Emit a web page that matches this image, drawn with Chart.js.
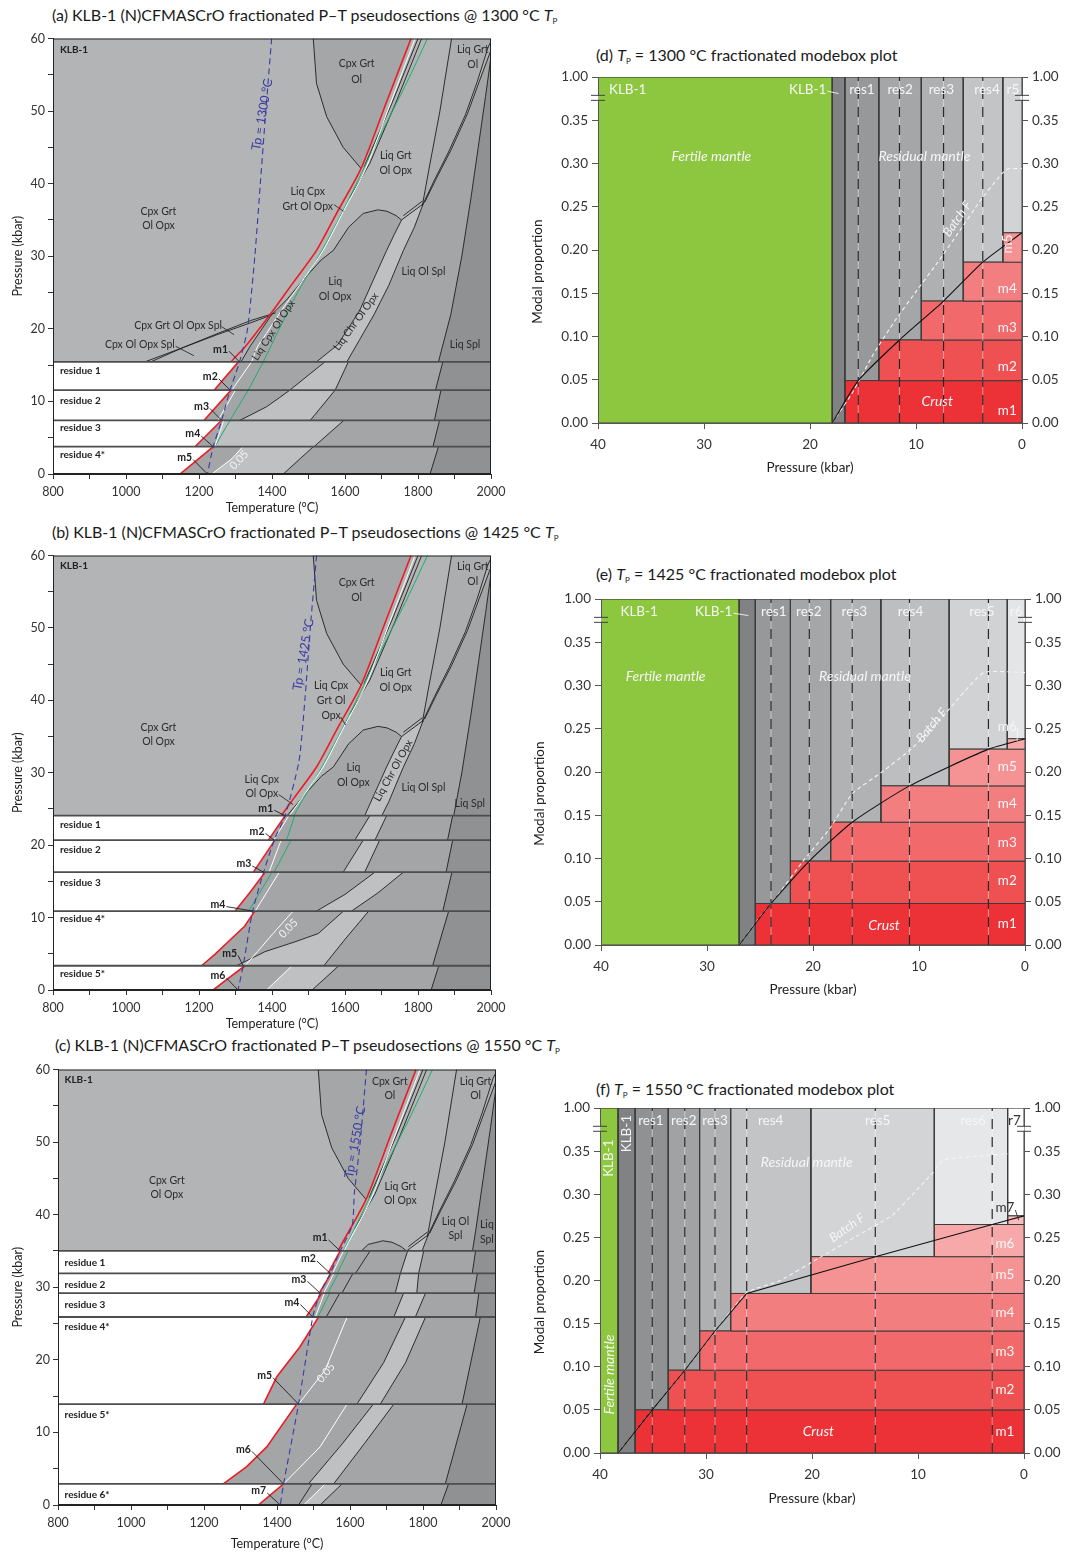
<!DOCTYPE html>
<html lang="en">
<head>
<meta charset="UTF-8">
<title>KLB-1 fractionated pseudosections and modebox plots</title>
<script src="https://cdn.jsdelivr.net/npm/chart.js"></script>
<style>
  body { margin: 0; background: #fff; }
  #page { position: relative; width: 1075px; height: 1553px; overflow: hidden; font-family: Lato, sans-serif; }
  canvas { position: absolute; }
  .ttl { position: absolute; font-size: 16px; line-height: 18px; color: #1a1a1a; white-space: nowrap; }
  .ttl sub { font-size: 8px; vertical-align: -3px; }
</style>
</head>
<body>
<div id="page">
  <div class="ttl" style="left:52px;top:6px">(a) KLB-1 (N)CFMASCrO fractionated P–T pseudosections @ 1300 °C <i>T</i><sub>P</sub></div>
  <div class="ttl" style="left:596px;top:46px">(d) <i>T</i><sub>P</sub> = 1300 °C fractionated modebox plot</div>
  <div class="ttl" style="left:52px;top:523px">(b) KLB-1 (N)CFMASCrO fractionated P–T pseudosections @ 1425 °C <i>T</i><sub>P</sub></div>
  <div class="ttl" style="left:596px;top:565px">(e) <i>T</i><sub>P</sub> = 1425 °C fractionated modebox plot</div>
  <div class="ttl" style="left:55px;top:1036px">(c) KLB-1 (N)CFMASCrO fractionated P–T pseudosections @ 1550 °C <i>T</i><sub>P</sub></div>
  <div class="ttl" style="left:596px;top:1080px">(f) <i>T</i><sub>P</sub> = 1550 °C fractionated modebox plot</div>

  <canvas id="chartA" width="513" height="496" style="left:0;top:28px"></canvas>
  <canvas id="chartB" width="513" height="495" style="left:0;top:545px"></canvas>
  <canvas id="chartC" width="518" height="494" style="left:0;top:1059px"></canvas>
  <canvas id="chartD" width="547" height="413" style="left:525px;top:65px"></canvas>
  <canvas id="chartE" width="550" height="413" style="left:525px;top:587px"></canvas>
  <canvas id="chartF" width="549" height="412" style="left:525px;top:1096px"></canvas>
</div>

<script>
// ---------- axes ----------
const T_TICKS = [800, 900, 1000, 1100, 1200, 1300, 1400, 1500, 1600, 1700, 1800, 1900, 2000];
const T_TICK_LABELS = ['800', '', '1000', '', '1200', '', '1400', '', '1600', '', '1800', '', '2000'];
const P_TICKS = [0, 5, 10, 15, 20, 25, 30, 35, 40, 45, 50, 55, 60];
const P_TICK_LABELS = ['0', '', '10', '', '20', '', '30', '', '40', '', '50', '', '60'];
const MB_P_TICKS = [0, 10, 20, 30, 40];
const MB_P_LABELS = ['0', '10', '20', '30', '40'];
// modal axis is broken above 0.35; the last tick carries 1.00
const MB_TICKS = [0, 0.05, 0.10, 0.15, 0.20, 0.25, 0.30, 0.35, 0.40];
const MB_TICK_LABELS = ['0.00', '0.05', '0.10', '0.15', '0.20', '0.25', '0.30', '0.35', '1.00'];
const MB_BREAK_TOP = 0.40;
const MB_BREAK_MARK = 0.376;

// ---------- KLB-1 phase boundaries (T °C, P kbar) ----------
const SOLIDUS = [[1781,60],[1712,51],[1644,42.1],[1580,36.2],[1522,30.8],[1460,26.5],[1404,22.6],[1350,19],[1326,17.5],[1288,15.45],[1270,14]];
const MELT05 = [[1792,60],[1724,51],[1657,42.1],[1596,36.2],[1540,30.8],[1482,26.5],[1427,22.6],[1380,19],[1360,17.5],[1344,15.45],[1330,14]];
const GREEN_LINE = [[1826,60],[1770,54],[1720,49],[1660,43],[1600,36.8],[1537,30.8],[1470,25],[1420,20],[1376,15.45],[1360,14]];
const CPX_GRT_OL = [[1513,60],[1522,53.8],[1550,49.2],[1595,45],[1644,42.1]];
const LIQ_EDGE_1 = [[1800,60],[1728,51],[1652,42.3]];
const LIQ_EDGE_2 = [[1810,60],[1738,51],[1668,42.8],[1612,38]];
const OPX_OUT = [[1892,60],[1860,50],[1830,42],[1812,37]];
const GRT_OUT_A = [[1812,37],[1845,40.5],[1885,44.5],[1930,49.5],[1962,54],[1992,58.8],[2000,59.6]];
const GRT_OUT_B = [[1818,37.4],[1851,40.8],[1891,44.7],[1936,49.7],[1968,54.1],[1997,58],[2000,58.4]];
const SPL_FIELD = [[2000,57.5],[1985,52],[1965,45],[1945,38],[1920,30],[1890,22],[1856,15.45],[1840,8],[1830,0]];
const CHR_RIGHT = [[1814,37.2],[1790,34],[1760,30.8],[1720,26],[1680,22],[1640,18.5],[1605,15.45],[1570,10],[1540,5],[1515,0]];
const CHR_LEFT = [[1755,35],[1735,33],[1714,30.8],[1680,27],[1640,22.5],[1580,17.8],[1522,15.45],[1490,10],[1460,5],[1440,0]];
const JUNCTION_A = [[1755,35],[1814,37.2]];
const JUNCTION_B = [[1760,35.6],[1812,37.6]];
const GRT_DOME = [[1568,30.8],[1610,34],[1650,35.9],[1690,36.4],[1715,36.2],[1740,35.6],[1755,35]];
const CPX_LOW = [[1398,21.9],[1370,19.8],[1340,17.6],[1315,15.45]];
const CPX_HIGH = [[1398,21.9],[1440,24],[1490,27],[1535,29.5],[1568,30.8]];
const SPL_IN_A = [[1052,15.45],[1150,17.3],[1250,19.2],[1340,20.8],[1398,21.9]];
const SPL_IN_B = [[1068,15.45],[1160,17.5],[1258,19.5],[1345,21.2],[1410,22.2]];

// ---------- (a) Tp = 1300 °C ----------
const A_BANDS = [15.45, 11.56, 7.4, 3.76, 0];
const A_RED = [
  [[1308,15.45],[1242,11.56]],
  [[1288,11.56],[1214,7.4]],
  [[1262,7.4],[1189,3.76]],
  [[1239,3.76],[1192,1.8],[1148,0]]
];
const A_WHITE = [
  [[1344,15.45],[1290,11.56]],
  [[1300,11.56],[1252,7.4]],
  [[1268,7.4],[1243,3.76]],
  [[1320,3.76],[1290,2.1],[1235,0]]
];
const A_GREEN = [
  [[1376,15.45],[1335,11.56]],
  [[1335,11.56],[1285,7.4]],
  [[1285,7.4],[1243,3.76]],
  null
];
const A_LIGHT_L = [
  [[1545,15.45],[1449,11.56]],
  [[1449,11.56],[1420,10.5],[1385,9.26],[1340,8.1],[1312,7.4]],
  null,
  null
];
const A_LIGHT_R = [
  [[1609,15.45],[1573,11.56]],
  [[1573,11.56],[1505,7.4]],
  [[1597,7.4],[1515,3.76]],
  [[1513,3.76],[1431,0]]
];
const A_DARK = [
  [[1868,15.45],[1848,11.56]],
  [[1863,11.56],[1845,7.4]],
  [[1859,7.4],[1841,3.76]],
  [[1856,3.76],[1833,0]]
];
const A_ADIABAT = [[1399,60],[1383,50],[1368,40],[1353,30],[1333,20],[1311,15.45],[1285,11.56],[1262,7.4],[1239,3.76],[1223,0]];
const A_MELTS = [[1311,15.45],[1285,11.56],[1262,7.4],[1239,3.76],[1223,0]];

// ---------- (b) Tp = 1425 °C ----------
const B_BANDS = [24.07, 20.7, 16.27, 10.9, 3.35, 0];
const B_RED = [
  [[1436,24.07],[1390,20.7]],
  [[1408,20.7],[1349,16.27]],
  [[1381,16.27],[1340,13.5],[1299,10.9]],
  [[1353,10.9],[1325,8.8],[1285,6.9],[1245,5],[1207,3.35]],
  [[1326,3.35],[1280,1.6],[1239,0]]
];
const B_WHITE = [
  [[1446,24.07],[1405,20.7]],
  [[1425,20.7],[1392,16.27]],
  [[1420,16.27],[1354,10.9]],
  [[1458,10.9],[1403,7.8],[1360,5.3],[1326,3.35]],
  [[1455,3.35],[1385,0]]
];
const B_GREEN = [
  [[1462,24.07],[1440,20.7]],
  [[1452,20.7],[1406,16.27]],
  [[1400,16.27],[1336,10.9]],
  null,
  null
];
const B_LIGHT_L = [
  [[1668,24.07],[1627,20.7]],
  [[1650,20.7],[1595,16.27]],
  [[1682,16.27],[1600,13.2],[1522,10.9]],
  [[1596,10.9],[1527,7.8],[1463,6.65],[1381,5.3],[1303,3.35]],
  null
];
const B_LIGHT_R = [
  [[1714,24.07],[1682,20.7]],
  [[1695,20.7],[1654,16.27]],
  [[1760,16.27],[1690,13.4],[1618,10.9]],
  [[1665,10.9],[1600,7],[1542,3.35]],
  [[1583,3.35],[1510,0]]
];
const B_DARK = [
  [[1895,24.07],[1881,20.7]],
  [[1895,20.7],[1877,16.27]],
  [[1893,16.27],[1868,10.9]],
  [[1884,10.9],[1840,3.35]],
  [[1857,3.35],[1836,0]]
];
const B_ADIABAT = [[1522,60],[1505,50],[1490,40],[1474,31.6],[1436,24.07],[1406,20.7],[1377,16.27],[1347,10.9],[1321,3.35],[1307,0]];
const B_MELTS = [[1436,24.07],[1406,20.7],[1377,16.27],[1347,10.9],[1321,3.35],[1307,0]];

// ---------- (c) Tp = 1550 °C ----------
const C_BANDS = [35.0, 31.9, 29.2, 25.9, 13.9, 2.9, 0];
const C_RED = [
  [[1573,35],[1540,31.9]],
  [[1548,31.9],[1516,29.2]],
  [[1523,29.2],[1480,25.9]],
  [[1514,25.9],[1463,21.8],[1400,17.7],[1363,13.9]],
  [[1454,13.9],[1372,8],[1317,5.3],[1253,2.9]],
  [[1418,2.9],[1349,0]]
];
const C_WHITE = [
  [[1582,35],[1552,31.9]],
  [[1556,31.9],[1528,29.2]],
  [[1530,29.2],[1505,25.9]],
  [[1592,25.9],[1532,18.6],[1459,13.9]],
  [[1592,13.9],[1518,8],[1418,2.9]],
  [[1532,2.9],[1473,0]]
];
const C_GREEN = [
  [[1595,35],[1565,31.9]],
  [[1568,31.9],[1540,29.2]],
  [[1545,29.2],[1512,25.9]],
  null, null, null
];
const C_LIGHT_L = [
  [[1758,35],[1738,31.9]],
  [[1738,31.9],[1724,29.2]],
  [[1747,29.2],[1720,25.9]],
  [[1752,25.9],[1692,19.6],[1619,13.9]],
  [[1664,13.9],[1580,8.5],[1486,2.9]],
  null
];
const C_LIGHT_R = [
  [[1802,35],[1788,31.9]],
  [[1788,31.9],[1783,29.2]],
  [[1807,29.2],[1779,25.9]],
  [[1807,25.9],[1752,19.6],[1683,13.9]],
  [[1720,13.9],[1640,8.5],[1555,2.9]],
  [[1578,2.9],[1518,0]]
];
const C_DARK = [
  [[1944,35],[1935,31.9]],
  [[1949,31.9],[1940,29.2]],
  [[1953,29.2],[1944,25.9]],
  [[1957,25.9],[1907,13.9]],
  [[1921,13.9],[1861,2.9]],
  [[1870,2.9],[1849,0]]
];
const C_EXTRA = [
  [[1655,35],[1615,31.9]],
  [[1608,31.9],[1578,29.2]],
  [[1572,29.2],[1535,25.9]],
  [[1496,2.9],[1459,0]]
];
const C_ADIABAT = [[1645,60],[1628,50],[1612,43],[1606,38.5],[1573,35],[1546,31.9],[1518,29.2],[1498,25.9],[1459,13.9],[1418,2.9],[1409,0]];
const C_MELTS = [[1573,35],[1546,31.9],[1518,29.2],[1498,25.9],[1459,13.9],[1418,2.9],[1409,0]];

// ---------- modebox columns: pressure edges (kbar) and cumulative extracted melt ----------
const D_EDGES = [40, 17.9, 16.7, 13.5, 9.5, 5.54, 1.8, 0];
const D_CUM = [0.049, 0.096, 0.141, 0.186, 0.22];
const D_STEPS = [15.45, 11.56, 7.4, 3.7];
const D_FRACT = [[17.9,0],[15.45,0.049],[11.56,0.096],[7.4,0.141],[3.7,0.186],[0,0.22]];
const D_BATCH = [[17.9,0],[16,0.035],[14,0.08],[12,0.118],[10,0.152],[8,0.185],[6,0.22],[4,0.256],[2,0.287],[1.3,0.294],[0,0.294]];

const E_EDGES = [40, 26.96, 25.44, 22.13, 18.33, 13.59, 7.15, 1.67, 0];
const E_CUM = [0.048, 0.097, 0.142, 0.184, 0.2265, 0.2385];
const E_STEPS = [23.96, 20.35, 16.3, 10.9, 3.45];
const E_FRACT = [[26.96,0],[23.96,0.048],[20.35,0.097],[16.3,0.142],[10.9,0.184],[3.45,0.2265],[0,0.2385]];
const E_BATCH = [[26.96,0],[25.2,0.029],[23.3,0.058],[21,0.096],[18.4,0.135],[16.3,0.175],[13.5,0.2],[10.7,0.227],[7.5,0.268],[3.9,0.315],[0,0.315]];

const F_EDGES = [40, 38.29, 36.68, 33.56, 30.6, 27.67, 20.1, 8.46, 1.54, 0];
const F_CUM = [0.05, 0.096, 0.1415, 0.185, 0.2277, 0.265, 0.275];
const F_STEPS = [35.07, 32.0, 29.15, 26.16, 14.03, 3.0];
const F_FRACT = [[38.29,0],[35.07,0.05],[32,0.096],[29.15,0.1415],[26.16,0.185],[14.03,0.2277],[3.0,0.265],[0,0.275]];
const F_BATCH = [[38.29,0],[35.07,0.05],[32,0.096],[29.15,0.141],[26.16,0.186],[23,0.2],[19.5,0.225],[16,0.25],[12.5,0.275],[10.5,0.3],[8.6,0.325],[7.6,0.34],[1.5,0.347]];

// ---------- colours ----------
const INK = '#1e1e1e', RED = '#ed1c24', GREEN = '#1fae6e', BLUE = '#3a3aa6';
const G_MAIN = '#b2b4b5', G_CGO = '#a4a6a7', G_LGO = '#abadae', G_MID = '#a3a5a6', G_LIGHT = '#bec0c1', G_DARK = '#8f9192';
const D_COLS = ['#8dc63f', '#808284', '#96989a', '#a4a6a8', '#aeb0b2', '#c2c4c5', '#d1d3d4'];
const E_COLS = ['#8dc63f', '#808284', '#96989a', '#a4a6a8', '#b0b2b3', '#bcbebf', '#d0d2d3', '#e4e5e6'];
const F_COLS = ['#8dc63f', '#808284', '#8f9193', '#a0a2a4', '#aeb0b2', '#c2c4c5', '#d2d4d5', '#e6e7e8', '#ffffff'];
const MELT_COLS = ['#ed3237', '#ef5052', '#f1696b', '#f37e80', '#f59294', '#f7a9aa', '#f9bcbc'];

Chart.defaults.font.family = 'Lato, "Open Sans", sans-serif';
Chart.defaults.color = '#333';
Chart.defaults.animation = false;
Chart.defaults.events = [];
Chart.defaults.plugins.legend.display = false;
Chart.defaults.plugins.tooltip.enabled = false;

const xy = a => a.map(([x, y]) => ({x, y}));
const rev = a => a.slice().reverse();
const yb = v => (v >= 1 ? MB_BREAK_TOP : v);

function area(points, color) {
  return {data: xy(points), fill: 'shape', backgroundColor: color, borderWidth: 0, pointRadius: 0};
}
function curve(points, color, width, extra) {
  return Object.assign({data: xy(points), fill: false, borderColor: color, borderWidth: width, pointRadius: 0, tension: 0}, extra || {});
}
// later entries are painted over earlier ones
function stack(list) {
  const n = list.length;
  return list.map((d, i) => Object.assign(d, {order: n - i}));
}

// ---------- plugins ----------
const notes = {
  id: 'notes',
  afterDatasetsDraw(chart, args, opts) {
    const {ctx, chartArea: a} = chart;
    const sx = chart.scales.x, sy = chart.scales.y;
    ctx.save();
    ctx.beginPath();
    ctx.rect(a.left, a.top, a.right - a.left, a.bottom - a.top);
    ctx.clip();
    for (const n of opts.items || []) {
      const px = sx.getPixelForValue(n.x), py = sy.getPixelForValue(n.y);
      ctx.font = `${n.style || 'normal'} ${n.weight || 'normal'} ${n.size}px Lato, sans-serif`;
      ctx.fillStyle = n.color;
      ctx.textBaseline = 'middle';
      ctx.textAlign = n.align || 'center';
      ctx.save();
      ctx.translate(px, py);
      ctx.rotate((n.rot || 0) * Math.PI / 180);
      ctx.fillText(n.t, 0, 0);
      ctx.restore();
      if (n.to) {
        const w = ctx.measureText(n.t).width;
        const x0 = n.align === 'right' ? px + 1 : px + w / 2 + 1;
        ctx.beginPath();
        ctx.moveTo(x0, py + 2);
        ctx.lineTo(sx.getPixelForValue(n.to[0]), sy.getPixelForValue(n.to[1]));
        ctx.strokeStyle = n.lead || INK;
        ctx.lineWidth = 0.9;
        ctx.stroke();
      }
    }
    ctx.restore();
  }
};

const frame = {
  id: 'frame',
  afterDatasetsDraw(chart) {
    const {ctx, chartArea: a} = chart;
    ctx.save();
    ctx.strokeStyle = '#222';
    ctx.lineWidth = 1;
    ctx.strokeRect(a.left + 0.5, a.top + 0.5, a.right - a.left - 1, a.bottom - a.top - 1);
    ctx.restore();
  }
};

const modalAxis = {
  id: 'modalAxis',
  afterDraw(chart, args, opts) {
    const {ctx, chartArea: a} = chart;
    const y = chart.scales.y.getPixelForValue(MB_BREAK_MARK);
    ctx.save();
    for (const x of [a.left, a.right]) {
      ctx.fillStyle = '#fff';
      ctx.fillRect(x - 1.5, y - 2, 2, 4);
      ctx.strokeStyle = '#444';
      ctx.lineWidth = 1;
      ctx.beginPath();
      ctx.moveTo(x - 7, y - 2.5); ctx.lineTo(x + 7, y - 2.5);
      ctx.moveTo(x - 7, y + 2.5); ctx.lineTo(x + 7, y + 2.5);
      ctx.stroke();
    }
    // axis caption centred on the 0.00–0.35 part of the scale
    ctx.translate(opts.captionX, chart.scales.y.getPixelForValue(0.175));
    ctx.rotate(-Math.PI / 2);
    ctx.font = '13.5px Lato, sans-serif';
    ctx.fillStyle = '#222';
    ctx.textAlign = 'center';
    ctx.textBaseline = 'middle';
    ctx.fillText('Modal proportion', 0, 0);
    ctx.restore();
  }
};

// ---------- pseudosection panels ----------
function pseudoSets(p) {
  const L = [];
  L.push(area([[800,0],[2000,0],[2000,60],[800,60]], G_MAIN));
  L.push(area(CPX_GRT_OL.concat([SOLIDUS[1], SOLIDUS[0]]), G_CGO));
  L.push(area(OPX_OUT.concat(GRT_OUT_A.slice(1), [[2000,60]]), G_LGO));
  L.push(area(rev(GRT_OUT_B).concat(CHR_RIGHT, rev(SPL_FIELD)), G_MID));
  L.push(area(rev(CPX_LOW).concat(CPX_HIGH.slice(1), GRT_DOME.slice(1), CHR_LEFT.slice(1), [[1250,0]]), G_MID));
  L.push(area(CHR_LEFT.concat(rev(CHR_RIGHT)), G_LIGHT));
  L.push(area(SPL_FIELD.concat([[2000,0]]), G_DARK));
  [CPX_GRT_OL, LIQ_EDGE_1, LIQ_EDGE_2, OPX_OUT, GRT_OUT_A, GRT_OUT_B, SPL_FIELD, CHR_RIGHT, CHR_LEFT,
   JUNCTION_A, JUNCTION_B, GRT_DOME, CPX_LOW, CPX_HIGH, SPL_IN_A, SPL_IN_B].forEach(c => L.push(curve(c, INK, 0.9)));
  L.push(curve(GREEN_LINE, GREEN, 1, {tension: 0.25}));
  L.push(curve(MELT05, '#ffffff', 1, {tension: 0.25}));
  L.push(curve(SOLIDUS, RED, 1.6, {tension: 0.25}));

  const nb = p.bands.length - 1;
  for (let i = 0; i < nb; i++) {
    const top = p.bands[i], bot = p.bands[i + 1];
    L.push(area([[800, top], [2000, top], [2000, bot], [800, bot]], G_MID));
    L.push(area((p.lightL[i] || p.white[i]).concat(rev(p.lightR[i])), G_LIGHT));
    L.push(area(p.dark[i].concat([[2000, bot], [2000, top]]), G_DARK));
    L.push(area([[800, top]].concat(p.red[i], [[800, bot]]), '#ffffff'));
  }
  for (let i = 0; i < nb; i++) {
    if (p.lightL[i]) L.push(curve(p.lightL[i], INK, 0.9));
    L.push(curve(p.lightR[i], INK, 0.9));
    L.push(curve(p.dark[i], INK, 0.9));
    if (p.green[i]) L.push(curve(p.green[i], GREEN, 1));
    L.push(curve(p.white[i], '#ffffff', 1));
    L.push(curve(p.red[i], RED, 1.6));
  }
  (p.extra || []).forEach(c => L.push(curve(c, INK, 0.9)));
  for (let i = 0; i < nb; i++) L.push(curve([[800, p.bands[i]], [2000, p.bands[i]]], '#4d4d4d', 1.8));
  L.push(curve(p.adiabat, BLUE, 1.1, {borderDash: [6, 4], tension: 0.2}));
  (p.leaders || []).forEach(c => L.push(curve(c, INK, 0.8)));
  return stack(L);
}

function pseudoOptions(items, leftW, bottomH, xPad) {
  return {
    responsive: false,
    devicePixelRatio: 1,
    layout: {padding: {top: 10, right: 22, left: 0, bottom: 0}},
    scales: {
      x: {
        type: 'linear', min: 800, max: 2000,
        afterBuildTicks: s => { s.ticks = T_TICKS.map(value => ({value})); },
        ticks: {autoSkip: false, maxRotation: 0, padding: 5, font: {size: 12.5}, color: '#333', callback: (v, i) => T_TICK_LABELS[i]},
        grid: {drawOnChartArea: false, tickLength: 5, tickColor: '#333'},
        border: {color: '#222', z: 1},
        title: {display: true, text: 'Temperature (°C)', font: {size: 12.5}, color: '#222', padding: {top: 0, bottom: xPad}},
        afterFit: s => { s.height = bottomH; }
      },
      y: {
        type: 'linear', min: 0, max: 60,
        afterBuildTicks: s => { s.ticks = P_TICKS.map(value => ({value})); },
        ticks: {autoSkip: false, padding: 3, font: {size: 12.5}, color: '#333', callback: (v, i) => P_TICK_LABELS[i]},
        grid: {drawOnChartArea: false, tickLength: 5, tickColor: '#333'},
        border: {color: '#222', z: 1},
        title: {display: true, text: 'Pressure (kbar)', font: {size: 12.5}, color: '#222', padding: {top: 10.5, bottom: 0}},
        afterFit: s => { s.width = leftW; }
      }
    },
    plugins: {notes: {items}}
  };
}

function fieldText(list, extra) {
  return list.map(([t, x, y, rot]) => Object.assign({t, x, y, rot: rot || 0, size: 10.5, color: '#2b2b2b'}, extra || {}));
}
function boldText(list, tLeft) {
  return list.map(([t, y]) => ({t, x: tLeft, y, size: 10, weight: 'bold', color: '#222', align: 'left'}));
}
function meltText(list, points) {
  return list.map(([x, y], i) => ({t: 'm' + (i + 1), x, y, size: 10.5, weight: 'bold', color: '#222', to: points[i]}));
}

const A_TEXT = [
  ['Cpx Grt', 1632, 56.5], ['Ol', 1632, 54.4],
  ['Liq Grt', 1950, 58.5], ['Ol', 1950, 56.4],
  ['Liq Grt', 1739, 43.9], ['Ol Opx', 1739, 41.8],
  ['Liq Cpx', 1498, 38.85], ['Grt Ol Opx', 1498, 36.9],
  ['Cpx Grt', 1089, 36.2], ['Ol Opx', 1089, 34.2],
  ['Liq', 1573, 26.5], ['Ol Opx', 1573, 24.5],
  ['Liq Ol Spl', 1815, 27.9],
  ['Liq Spl', 1929, 17.8],
  ['Cpx Grt Ol Opx Spl', 1143, 20.5],
  ['Cpx Ol Opx Spl', 1038, 17.85],
  ['Liq Chr Ol Opx', 1630, 21, -54],
  ['Liq Cpx Ol Opx', 1404, 19.8, -57]
];
const A_RESIDUES = [['KLB-1', 58.5], ['residue 1', 14.2], ['residue 2', 10.1], ['residue 3', 6.3], ['residue 4*', 2.6]];
const A_MLABELS = [[1259, 17.2], [1231, 13.4], [1207, 9.3], [1183, 5.5], [1161, 2.25]];
const A_LEADERS = [[[1570,37.1],[1596,36.2]], [[1262,20.3],[1296,19.2]], [[1136,17.6],[1186,16.3]]];

const B_TEXT = [
  ['Cpx Grt', 1632, 56.3], ['Ol', 1632, 54.2],
  ['Liq Grt', 1950, 58.4], ['Ol', 1950, 56.4],
  ['Liq Grt', 1739, 43.8], ['Ol Opx', 1739, 41.8],
  ['Liq Cpx', 1562, 42.05], ['Grt Ol', 1562, 40], ['Opx', 1562, 37.95],
  ['Cpx Grt', 1089, 36.2], ['Ol Opx', 1089, 34.3],
  ['Liq', 1623, 30.7], ['Ol Opx', 1623, 28.65],
  ['Liq Ol Spl', 1815, 28],
  ['Liq Spl', 1942, 25.7],
  ['Liq Cpx', 1372, 29.1], ['Ol Opx', 1372, 27.15],
  ['Liq Chr Ol Opx', 1732, 30.3, -61]
];
const B_RESIDUES = [['KLB-1', 58.6], ['residue 1', 22.8], ['residue 2', 19.35], ['residue 3', 14.8], ['residue 4*', 9.85], ['residue 5*', 2.2]];
const B_MLABELS = [[1383, 25.1], [1359, 21.9], [1323, 17.4], [1252, 11.8], [1284, 5.05], [1252, 1.93]];
const B_LEADERS = [[[1588,37.7],[1602,36.6]], [[1418,27.0],[1458,25.6]]];

const C_TEXT = [
  ['Cpx Grt', 1709, 58.4], ['Ol', 1709, 56.4],
  ['Liq Grt', 1944, 58.4], ['Ol', 1944, 56.4],
  ['Liq Grt', 1738, 43.85], ['Ol Opx', 1738, 41.9],
  ['Cpx Grt', 1098, 44.7], ['Ol Opx', 1098, 42.8],
  ['Liq Ol', 1889, 39], ['Spl', 1889, 37.05],
  ['Liq', 1975, 38.6], ['Spl', 1975, 36.6]
];
const C_RESIDUES = [['KLB-1', 58.6], ['residue 1', 33.4], ['residue 2', 30.4], ['residue 3', 27.55], ['residue 4*', 24.55], ['residue 5*', 12.4], ['residue 6*', 1.47]];
const C_MLABELS = [[1518, 36.8], [1486, 33.9], [1460, 31.1], [1441, 27.9], [1366, 17.8], [1308, 7.67], [1350, 1.93]];

function pseudoItems(text, residues, tLeft, mLabels, mPoints, white, blue) {
  return fieldText(text)
    .concat(boldText(residues, tLeft))
    .concat(meltText(mLabels, mPoints))
    .concat([{t: white[0], x: white[1], y: white[2], rot: white[3], size: 11, color: '#f2f2f2'}])
    .concat([{t: blue[0], x: blue[1], y: blue[2], rot: -80, size: 12.5, color: BLUE}]);
}

new Chart(document.getElementById('chartA'), {
  type: 'line',
  data: {datasets: pseudoSets({bands: A_BANDS, red: A_RED, white: A_WHITE, green: A_GREEN, lightL: A_LIGHT_L, lightR: A_LIGHT_R, dark: A_DARK, adiabat: A_ADIABAT, leaders: A_LEADERS})},
  options: pseudoOptions(pseudoItems(A_TEXT, A_RESIDUES, 819, A_MLABELS, A_MELTS, ['0.05', 1310, 1.93, -47], ['Tp = 1300 °C', 1373, 49.5]), 53, 50, 8.5),
  plugins: [frame, notes]
});
new Chart(document.getElementById('chartB'), {
  type: 'line',
  data: {datasets: pseudoSets({bands: B_BANDS, red: B_RED, white: B_WHITE, green: B_GREEN, lightL: B_LIGHT_L, lightR: B_LIGHT_R, dark: B_DARK, adiabat: B_ADIABAT, leaders: B_LEADERS})},
  options: pseudoOptions(pseudoItems(B_TEXT, B_RESIDUES, 819, B_MLABELS, B_MELTS, ['0.05', 1445, 8.5, -45], ['Tp = 1425 °C', 1486, 46.3]), 53, 50, 8.5),
  plugins: [frame, notes]
});
new Chart(document.getElementById('chartC'), {
  type: 'line',
  data: {datasets: pseudoSets({bands: C_BANDS, red: C_RED, white: C_WHITE, green: C_GREEN, lightL: C_LIGHT_L, lightR: C_LIGHT_R, dark: C_DARK, adiabat: C_ADIABAT, extra: C_EXTRA})},
  options: pseudoOptions(pseudoItems(C_TEXT, C_RESIDUES, 818, C_MLABELS, C_MELTS, ['0.05', 1534, 18.2, -51], ['Tp = 1550 °C', 1614, 50]), 58, 48, 1.5),
  plugins: [frame, notes]
});

// ---------- modebox panels ----------
function box(p0, p1, y0, y1, color) {
  return Object.assign(area([[p0, yb(y0)], [p1, yb(y0)], [p1, yb(y1)], [p0, yb(y1)], [p0, yb(y0)]], color), {borderColor: '#3c3c3c', borderWidth: 1});
}
function modeSets(m) {
  const L = [];
  const n = m.edges.length - 1;
  for (let i = 0; i < n; i++) {
    const base = i < 2 ? 0 : m.cum[i - 2];
    L.push(box(m.edges[i], m.edges[i + 1], base, 1, m.cols[i]));
  }
  m.cum.forEach((c, j) => L.push(box(m.edges[j + 2], 0, j ? m.cum[j - 1] : 0, c, MELT_COLS[j])));
  m.steps.forEach(p => L.push(curve([[p, 0], [p, yb(1)]], 'rgba(255,255,255,0.45)', 1)));
  m.steps.forEach(p => L.push(curve([[p, 0], [p, yb(1)]], '#262626', 1.2, {borderDash: [10, 8]})));
  L.push(curve(m.batch, '#f4f4f4', 1.1, {borderDash: [4, 3], tension: 0.15}));
  L.push(curve(m.fract, '#111', 1.1, {tension: m.tension}));
  return stack(L);
}
function modeOptions(items, leftW, captionX, xPad) {
  const yAxis = pos => ({
    type: 'linear', position: pos, min: 0, max: MB_BREAK_TOP,
    afterBuildTicks: s => { s.ticks = MB_TICKS.map(value => ({value})); },
    ticks: {autoSkip: false, padding: 4, font: {size: 13.5}, color: '#333', callback: (v, i) => MB_TICK_LABELS[i]},
    grid: {drawOnChartArea: false, tickLength: 6, tickColor: '#555'},
    border: {color: '#555', z: 1},
    afterFit: s => { s.width = pos === 'left' ? leftW : 50; }
  });
  return {
    responsive: false,
    devicePixelRatio: 1,
    layout: {padding: {top: 10, right: 0, left: 0, bottom: 0}},
    scales: {
      x: {
        type: 'linear', min: 0, max: 40, reverse: true,
        afterBuildTicks: s => { s.ticks = MB_P_TICKS.map(value => ({value})); },
        ticks: {autoSkip: false, maxRotation: 0, padding: 8, font: {size: 13.5}, color: '#333', callback: (v, i) => MB_P_LABELS[i]},
        grid: {drawOnChartArea: false, tickLength: 6, tickColor: '#555'},
        border: {color: '#555', z: 1},
        title: {display: true, text: 'Pressure (kbar)', font: {size: 13.5}, color: '#222', padding: {top: 0, bottom: xPad}},
        afterFit: s => { s.height = 55; }
      },
      y: yAxis('left'),
      y2: yAxis('right')
    },
    plugins: {notes: {items}, modalAxis: {captionX}}
  };
}

const WHITE_TXT = '#f6f6f6';
function topText(list, y) {
  return list.map(([t, x]) => ({t, x, y, size: 13.5, color: WHITE_TXT}));
}
function sideText(list, x) {
  return list.map(([t, y, rot]) => ({t, x, y, rot: rot || 0, size: 13.5, color: WHITE_TXT}));
}
function italicText(list) {
  return list.map(([t, x, y, rot, size]) => ({t, x, y, rot: rot || 0, size: size || 14, style: 'italic', color: WHITE_TXT}));
}

const D_TOP = [['KLB-1', 37.2], ['res1', 15.1], ['res2', 11.5], ['res3', 7.6], ['res4', 3.3], ['r5', 0.85]];
const D_MTEXT = [['m1', 0.014], ['m2', 0.065], ['m3', 0.110], ['m4', 0.155], ['m5', 0.207, -90]];
const D_ITALIC = [['Fertile mantle', 29.3, 0.308], ['Residual mantle', 9.2, 0.308], ['Crust', 8.0, 0.025], ['Batch F', 6.1, 0.236, -55, 12.5]];

const E_TOP = [['KLB-1', 36.4], ['res1', 23.7], ['res2', 20.4], ['res3', 16.1], ['res4', 10.8], ['res5', 4.06], ['r6', 0.84]];
const E_MTEXT = [['m1', 0.025], ['m2', 0.074], ['m3', 0.118], ['m4', 0.163], ['m5', 0.206]];
const E_ITALIC = [['Fertile mantle', 33.9, 0.31], ['Residual mantle', 15.1, 0.31], ['Crust', 13.3, 0.023], ['Batch F', 8.8, 0.254, -50, 12.5]];

const F_TOP = [['res1', 35.2], ['res2', 32.1], ['res3', 29.15], ['res4', 23.9], ['res5', 13.8], ['res6', 4.8]];
const F_MTEXT = [['m1', 0.025], ['m2', 0.073], ['m3', 0.117], ['m4', 0.163], ['m5', 0.2065], ['m6', 0.2425]];
const F_ITALIC = [['Residual mantle', 20.5, 0.337], ['Fertile mantle', 39.15, 0.091, -90], ['Crust', 19.4, 0.025], ['Batch F', 16.7, 0.261, -35, 12.5]];

const LABEL_Y = 0.386;

new Chart(document.getElementById('chartD'), {
  type: 'line',
  data: {datasets: modeSets({edges: D_EDGES, cum: D_CUM, cols: D_COLS, steps: D_STEPS, batch: D_BATCH, fract: D_FRACT, tension: 0.2})},
  options: modeOptions(
    topText(D_TOP, LABEL_Y)
      .concat([{t: 'KLB-1', x: 18.45, y: LABEL_Y, size: 13.5, color: WHITE_TXT, align: 'right', to: [17.3, 0.381], lead: WHITE_TXT}])
      .concat(sideText(D_MTEXT, 1.39))
      .concat(italicText(D_ITALIC)),
    73, 13, 2),
  plugins: [notes, modalAxis]
});
new Chart(document.getElementById('chartE'), {
  type: 'line',
  data: {datasets: modeSets({edges: E_EDGES, cum: E_CUM, cols: E_COLS, steps: E_STEPS, batch: E_BATCH, fract: E_FRACT, tension: 0.2})},
  options: modeOptions(
    topText(E_TOP, LABEL_Y)
      .concat([{t: 'KLB-1', x: 27.6, y: LABEL_Y, size: 13.5, color: WHITE_TXT, align: 'right', to: [26.1, 0.381], lead: WHITE_TXT}])
      .concat(sideText(E_MTEXT, 1.67))
      .concat([{t: 'm6', x: 1.67, y: 0.253, size: 13.5, color: WHITE_TXT, to: [0.75, 0.236], lead: WHITE_TXT}])
      .concat(italicText(E_ITALIC)),
    76, 15, 2),
  plugins: [notes, modalAxis]
});
new Chart(document.getElementById('chartF'), {
  type: 'line',
  data: {datasets: modeSets({edges: F_EDGES, cum: F_CUM, cols: F_COLS, steps: F_STEPS, batch: F_BATCH, fract: F_FRACT, tension: 0})},
  options: modeOptions(
    topText(F_TOP, LABEL_Y)
      .concat(sideText([['KLB-1', 0.342, -90]], 39.2))
      .concat(sideText([['KLB-1', 0.3705, -90]], 37.5))
      .concat([{t: 'r7', x: 0.9, y: LABEL_Y, size: 13.5, color: '#333'}])
      .concat(sideText(F_MTEXT, 1.8))
      .concat([{t: 'm7', x: 1.8, y: 0.284, size: 13.5, color: '#333', to: [0.5, 0.27], lead: '#333'}])
      .concat(italicText(F_ITALIC)),
    75, 15, 1),
  plugins: [notes, modalAxis]
});
</script>
</body>
</html>
